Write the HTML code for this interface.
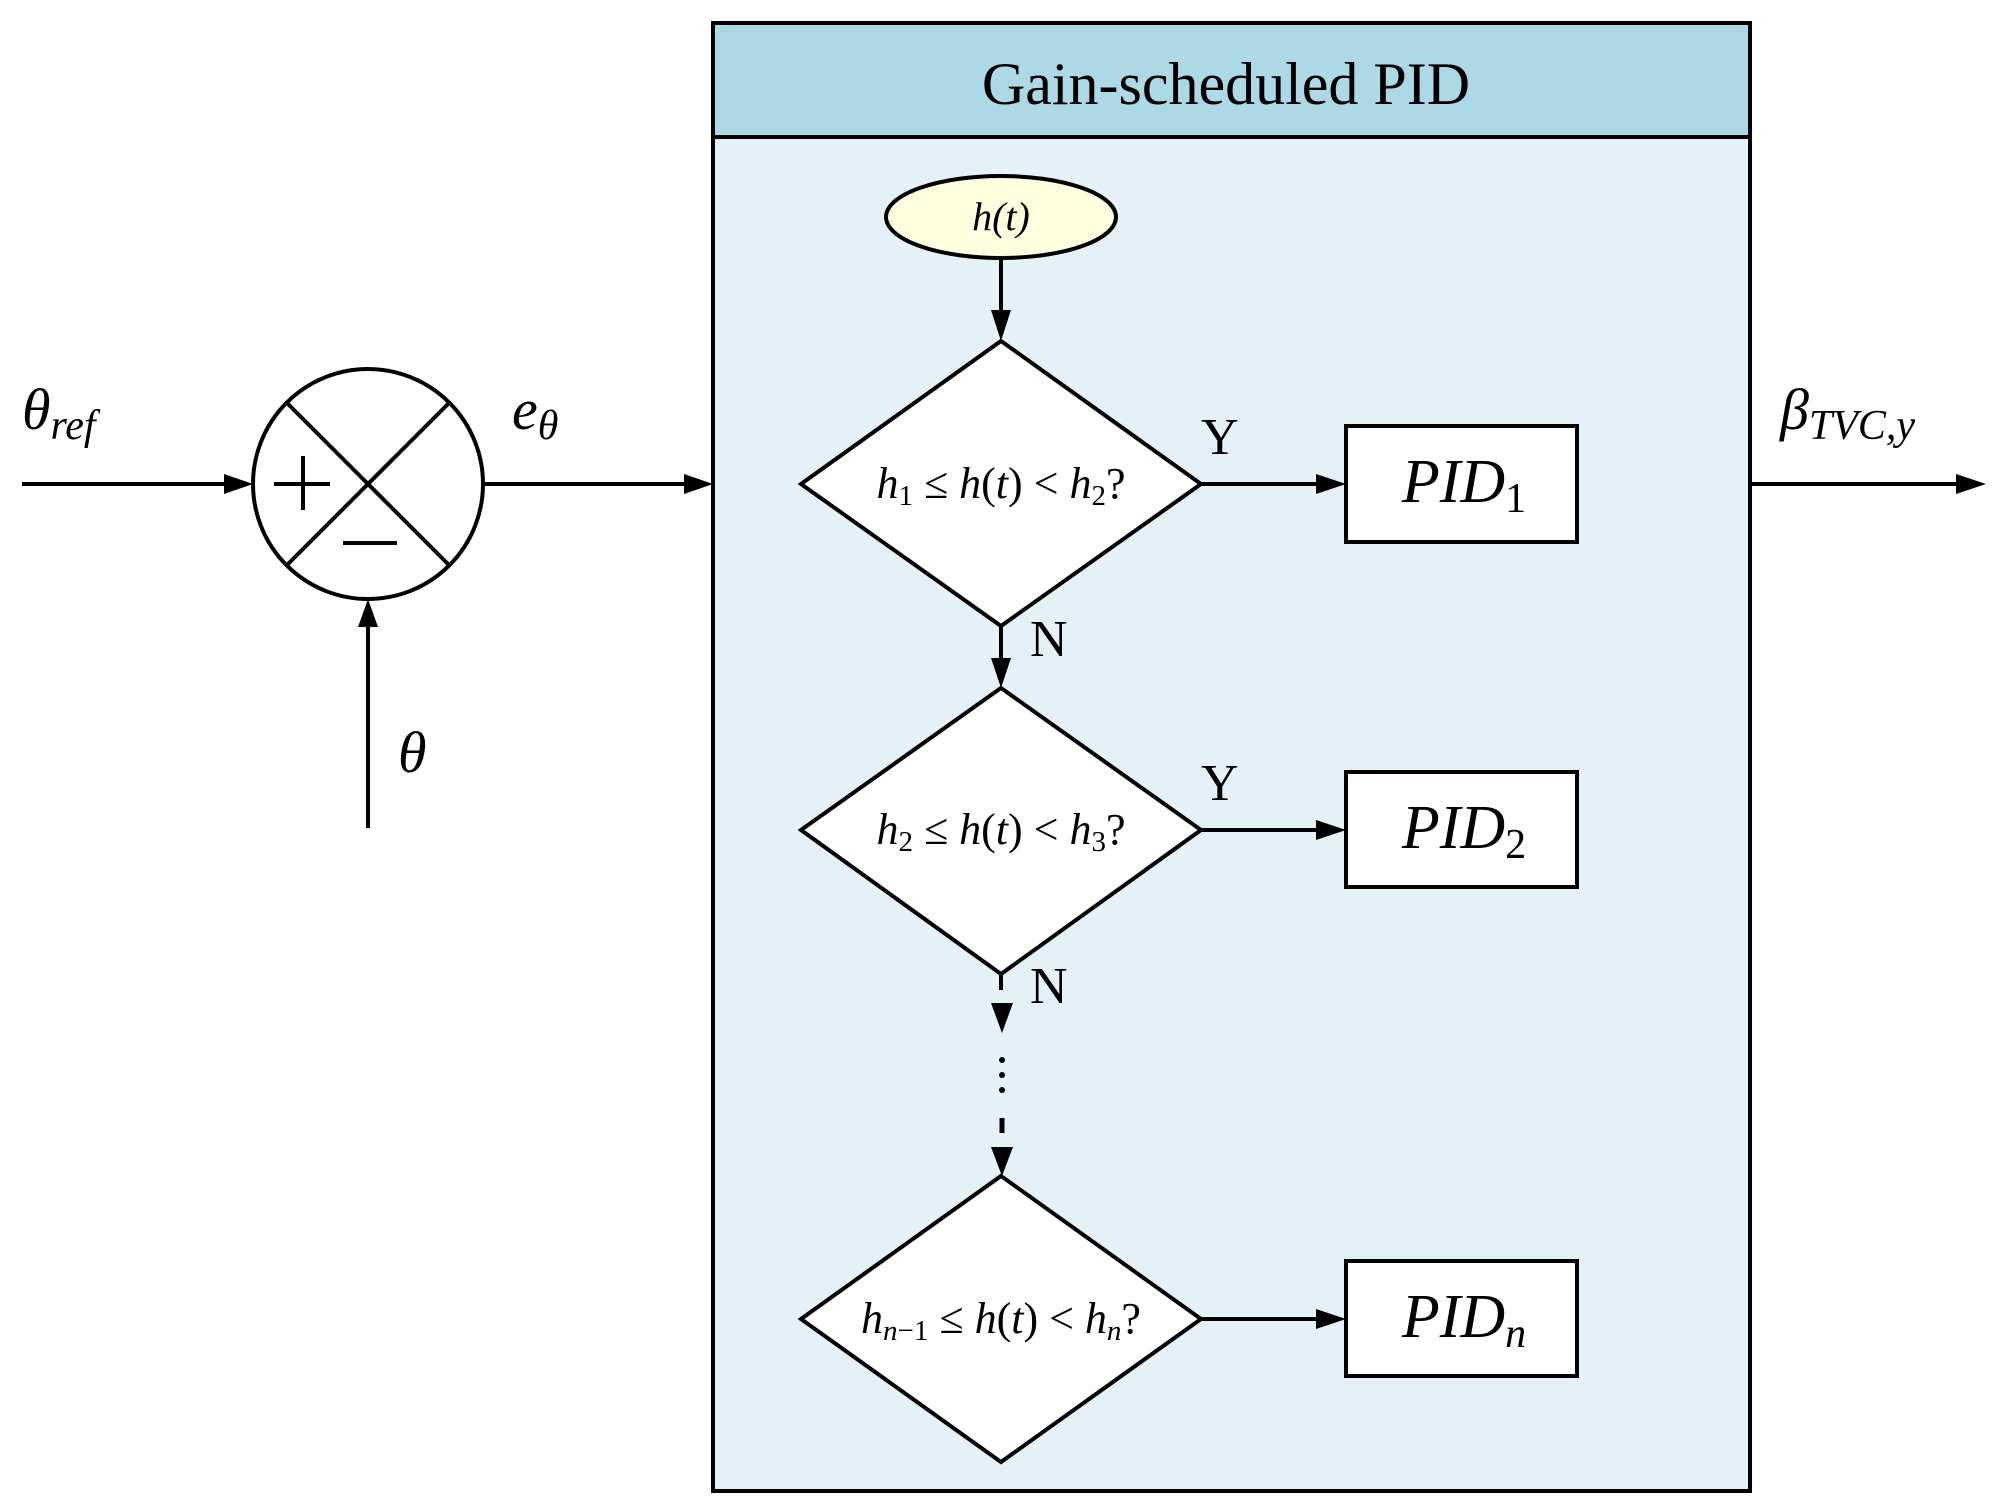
<!DOCTYPE html>
<html><head><meta charset="utf-8"><style>html,body{margin:0;padding:0;background:#fff}svg{display:block}</style></head>
<body>
<svg width="2004" height="1509" viewBox="0 0 2004 1509" xmlns="http://www.w3.org/2000/svg" font-family="Liberation Serif, serif">
<rect x="713" y="23" width="1037" height="1468" fill="#e4f2f8" stroke="#000" stroke-width="4"/>
<rect x="713" y="23" width="1037" height="114" fill="#add8e6" stroke="#000" stroke-width="4"/>
<text x="1226" y="104" font-size="60" text-anchor="middle">Gain-scheduled PID</text>

<ellipse cx="1001" cy="217" rx="115" ry="41" fill="#ffffe0" stroke="#000" stroke-width="4"/>
<text x="1001" y="230" font-size="40" font-style="italic" text-anchor="middle">h(t)</text>
<line x1="1001" y1="258" x2="1001" y2="314" stroke="#000" stroke-width="4"/>
<polygon points="991,310 1011,310 1001,341" fill="#000"/>

<polygon points="1001,341 1201,484 1001,626 801,484" fill="#fff" stroke="#000" stroke-width="4"/>
<polygon points="1001,688 1201,830 1001,974 801,830" fill="#fff" stroke="#000" stroke-width="4"/>
<polygon points="1001,1176 1201,1319 1001,1462 801,1319" fill="#fff" stroke="#000" stroke-width="4"/>
<text x="1001" y="498" font-size="44" text-anchor="middle"><tspan font-style="italic">h</tspan><tspan font-size="29" dy="7">1</tspan><tspan dy="-7"> ≤ </tspan><tspan font-style="italic">h</tspan>(<tspan font-style="italic">t</tspan>) &lt; <tspan font-style="italic">h</tspan><tspan font-size="29" dy="7">2</tspan><tspan dy="-7">?</tspan></text>
<text x="1001" y="844" font-size="44" text-anchor="middle"><tspan font-style="italic">h</tspan><tspan font-size="29" dy="7">2</tspan><tspan dy="-7"> ≤ </tspan><tspan font-style="italic">h</tspan>(<tspan font-style="italic">t</tspan>) &lt; <tspan font-style="italic">h</tspan><tspan font-size="29" dy="7">3</tspan><tspan dy="-7">?</tspan></text>
<text x="1001" y="1333" font-size="44" text-anchor="middle"><tspan font-style="italic">h</tspan><tspan font-size="29" dy="7" font-style="italic">n</tspan><tspan font-size="29">−1</tspan><tspan dy="-7"> ≤ </tspan><tspan font-style="italic">h</tspan>(<tspan font-style="italic">t</tspan>) &lt; <tspan font-style="italic">h</tspan><tspan font-size="29" dy="7" font-style="italic">n</tspan><tspan dy="-7">?</tspan></text>

<line x1="1001" y1="626" x2="1001" y2="662" stroke="#000" stroke-width="4"/>
<polygon points="991,658 1011,658 1001,688" fill="#000"/>
<line x1="1001" y1="974" x2="1001" y2="990" stroke="#000" stroke-width="4"/>
<polygon points="991,1003 1013,1003 1002,1033" fill="#000"/>
<circle cx="1002" cy="1060" r="3" fill="#000"/>
<circle cx="1002" cy="1075" r="3" fill="#000"/>
<circle cx="1002" cy="1090" r="3" fill="#000"/>
<line x1="1002" y1="1118" x2="1002" y2="1133" stroke="#000" stroke-width="5"/>
<polygon points="991,1147 1013,1147 1002,1176" fill="#000"/>

<text x="1030" y="656" font-size="52">N</text>
<text x="1030" y="1003" font-size="52">N</text>
<text x="1201" y="454" font-size="52">Y</text>
<text x="1201" y="800" font-size="52">Y</text>

<line x1="1201" y1="484" x2="1320" y2="484" stroke="#000" stroke-width="4"/>
<polygon points="1316,474 1316,494 1346,484" fill="#000"/>
<line x1="1201" y1="830" x2="1320" y2="830" stroke="#000" stroke-width="4"/>
<polygon points="1316,820 1316,840 1346,830" fill="#000"/>
<line x1="1201" y1="1319" x2="1320" y2="1319" stroke="#000" stroke-width="4"/>
<polygon points="1316,1309 1316,1329 1346,1319" fill="#000"/>

<rect x="1346" y="426" width="231" height="116" fill="#fff" stroke="#000" stroke-width="4"/>
<rect x="1346" y="772" width="231" height="115" fill="#fff" stroke="#000" stroke-width="4"/>
<rect x="1346" y="1261" width="231" height="115" fill="#fff" stroke="#000" stroke-width="4"/>
<text x="1464" y="502" font-size="62" font-style="italic" text-anchor="middle">PID<tspan font-size="42" dy="10" font-style="normal">1</tspan></text>
<text x="1464" y="848" font-size="62" font-style="italic" text-anchor="middle">PID<tspan font-size="42" dy="10" font-style="normal">2</tspan></text>
<text x="1464" y="1337" font-size="62" font-style="italic" text-anchor="middle">PID<tspan font-size="42" dy="10">n</tspan></text>

<circle cx="368" cy="484" r="115" fill="#fff" stroke="#000" stroke-width="4"/>
<line x1="287" y1="403" x2="449" y2="565" stroke="#000" stroke-width="4"/>
<line x1="449" y1="403" x2="287" y2="565" stroke="#000" stroke-width="4"/>
<line x1="274" y1="484" x2="330" y2="484" stroke="#000" stroke-width="4"/>
<line x1="303" y1="456" x2="303" y2="510" stroke="#000" stroke-width="4"/>
<line x1="343" y1="543" x2="397" y2="543" stroke="#000" stroke-width="4"/>

<line x1="22" y1="484" x2="228" y2="484" stroke="#000" stroke-width="4"/>
<polygon points="224,474 224,494 253,484" fill="#000"/>
<line x1="483" y1="484" x2="688" y2="484" stroke="#000" stroke-width="4"/>
<polygon points="684,474 684,494 713,484" fill="#000"/>
<line x1="1750" y1="484" x2="1960" y2="484" stroke="#000" stroke-width="4"/>
<polygon points="1956,474 1956,494 1986,484" fill="#000"/>
<line x1="368" y1="828" x2="368" y2="625" stroke="#000" stroke-width="4"/>
<polygon points="358,627 378,627 368,599" fill="#000"/>

<text x="22" y="429" font-size="58" font-style="italic">θ<tspan font-size="42" dy="10">ref</tspan></text>
<text x="512" y="429" font-size="58" font-style="italic">e<tspan font-size="42" dy="10">θ</tspan></text>
<text x="398" y="772" font-size="58" font-style="italic">θ</text>
<text x="1780" y="429" font-size="58" font-style="italic">β<tspan font-size="42" dy="10">TVC,y</tspan></text>
</svg>
</body></html>
